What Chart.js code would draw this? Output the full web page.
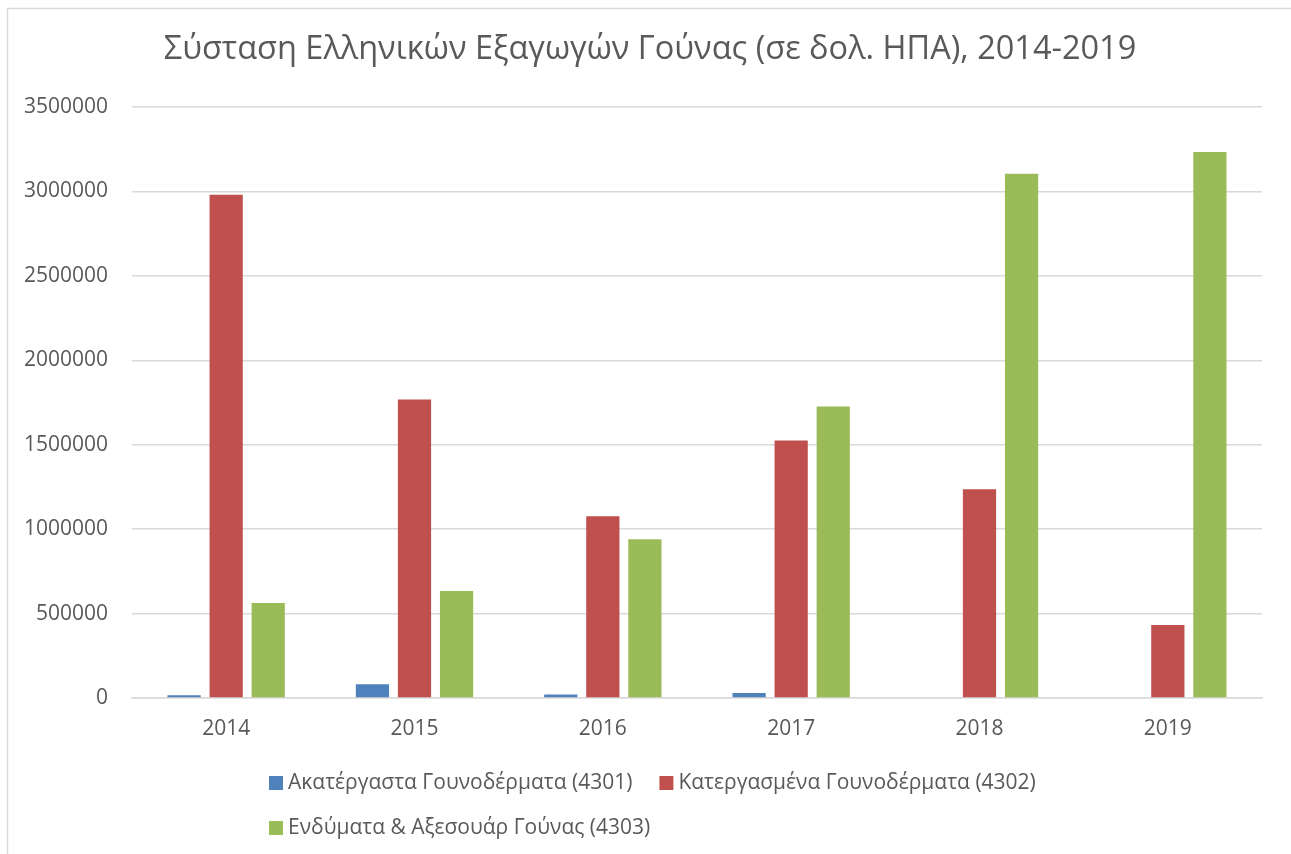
<!DOCTYPE html>
<html>
<head>
<meta charset="utf-8">
<script src="https://cdn.jsdelivr.net/npm/chart.js@4/dist/chart.umd.min.js"></script>
<style>
  html, body { margin: 0; padding: 0; background: #fff; }
  #wrap { width: 1291px; height: 854px; position: relative; }
</style>
</head>
<body>
<div id="wrap"><canvas id="furChart" width="1291" height="854"></canvas></div>
<script>
// data
const years = ['2014', '2015', '2016', '2017', '2018', '2019'];
const raw = [17000, 82000, 20000, 30000, 0, 0];           // 4301
const processed = [2980000, 1768000, 1076000, 1525000, 1236000, 432000]; // 4302
const garments = [562000, 633000, 940000, 1726000, 3104000, 3234000];    // 4303
const seriesNames = [
  'Ακατέργαστα Γουνοδέρματα (4301)',
  'Κατεργασμένα Γουνοδέρματα (4302)',
  'Ενδύματα & Αξεσουάρ Γούνας (4303)'
];
const chartTitle = 'Σύσταση Ελληνικών Εξαγωγών Γούνας (σε δολ. ΗΠΑ), 2014-2019';

const FONT = '"Open Sans", "Noto Sans", sans-serif';
const TEXT = '#595959';
const COLORS = ['#4F81BD', '#C0504D', '#9BBB59'];

// frame, title and the excel-like legend (2 items then wrap, left aligned)
const decor = {
  id: 'decor',
  beforeDraw(chart) {
    const c = chart.ctx;
    c.save();
    c.strokeStyle = '#D9D9D9';
    c.lineWidth = 1.5;
    c.beginPath();
    c.moveTo(7.5, 860);
    c.lineTo(7.5, 8.5);
    c.lineTo(1300, 8.5);
    c.stroke();
    c.restore();
  },
  afterDraw(chart) {
    const c = chart.ctx;
    c.save();
    c.fillStyle = TEXT;
    c.font = '32.5px ' + FONT;
    c.textAlign = 'center';
    c.textBaseline = 'middle';
    c.fillText(chartTitle, 650, 50);

    c.font = '21px ' + FONT;
    c.textAlign = 'left';
    const box = 14, gapText = 5, gapItem = 27;
    const ds = chart.data.datasets;
    const w0 = box + gapText + c.measureText(ds[0].label).width;
    const w1 = box + gapText + c.measureText(ds[1].label).width;
    const rowW = w0 + gapItem + w1;
    const x0 = Math.round(652 - rowW / 2);
    const rows = [
      [{ d: ds[0], x: x0, y: 783 }, { d: ds[1], x: x0 + w0 + gapItem, y: 783 }],
      [{ d: ds[2], x: x0, y: 828 }]
    ];
    rows.flat().forEach(it => {
      c.fillStyle = it.d.backgroundColor;
      c.fillRect(it.x, it.y - box / 2, box, box);
      c.fillStyle = TEXT;
      c.fillText(it.d.label, it.x + box + gapText, it.y);
    });
    c.restore();
  }
};

new Chart(document.getElementById('furChart').getContext('2d'), {
  type: 'bar',
  data: {
    labels: years,
    datasets: [
      { label: seriesNames[0], data: raw, backgroundColor: COLORS[0] },
      { label: seriesNames[1], data: processed, backgroundColor: COLORS[1] },
      { label: seriesNames[2], data: garments, backgroundColor: COLORS[2] }
    ]
  },
  options: {
    responsive: false,
    animation: false,
    layout: { padding: { top: 107, left: 0, right: 29, bottom: 0 } },
    datasets: { bar: { categoryPercentage: 0.67, barPercentage: 0.79 } },
    plugins: {
      legend: { display: false },
      title: { display: false },
      tooltip: { enabled: false }
    },
    scales: {
      x: {
        grid: { display: false, drawTicks: false },
        border: { color: '#D9D9D9', width: 1.5 },
        ticks: { color: TEXT, font: { family: FONT, size: 21 }, padding: 18 },
        afterFit(s) { s.height = 156; }
      },
      y: {
        min: 0,
        max: 3500000,
        grid: { color: '#D9D9D9', lineWidth: 1.5, drawTicks: false },
        border: { display: false },
        ticks: {
          stepSize: 500000,
          color: TEXT,
          font: { family: FONT, size: 21 },
          padding: 24,
          callback: v => String(v)
        },
        afterFit(s) { s.width = 132; }
      }
    }
  },
  plugins: [decor]
});
</script>
</body>
</html>
